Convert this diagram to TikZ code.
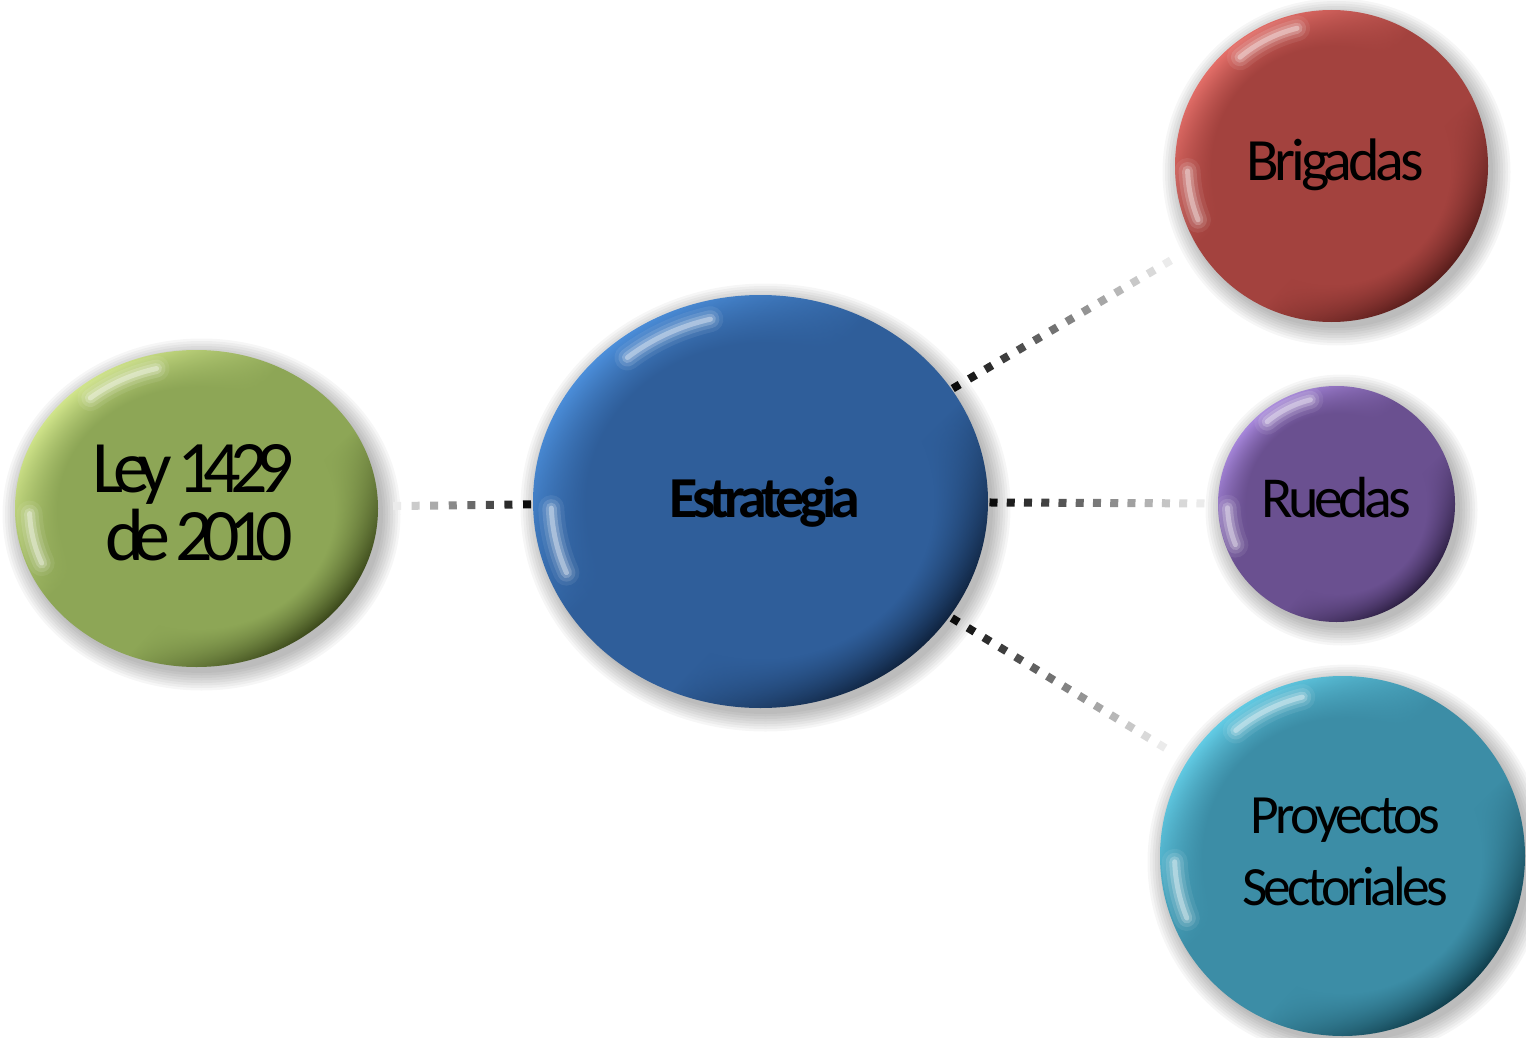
\documentclass[tikz,border=0pt]{standalone}
\usepackage{fontspec}
\usetikzlibrary{calc,fadings,shapes.geometric}
\newfontfamily\fBri[LetterSpace=-7]{Carlito}
\newfontfamily\fLey[LetterSpace=-15]{Carlito}
\newfontfamily\fEst[LetterSpace=-9]{Carlito}
\newfontfamily\fRue[LetterSpace=-7.5]{Carlito}
\newfontfamily\fPro[LetterSpace=-7]{Carlito}

\colorlet{orbL}{white}\colorlet{orbB}{gray}\colorlet{orbD}{black}
\pgfdeclarehorizontalshading[orbL,orbB,orbD]{orbaxis}{100bp}{%
  color(0bp)=(orbL); color(25bp)=(orbL); color(44bp)=(orbB); color(58bp)=(orbB);
  color(75bp)=(orbD); color(100bp)=(orbD)}
\pgfdeclareradialshading{orbfadeshade}{\pgfpoint{0bp}{0bp}}{%
  color(0bp)=(white); color(19bp)=(white); color(25bp)=(black); color(50bp)=(black)}
\pgfdeclarefading{orbfade}{\pgfuseshading{orbfadeshade}}

\tikzset{
  orbnode/.style={ellipse, inner sep=0pt, outer sep=0pt},
  orbtxt/.style={anchor=base, inner sep=0pt, text=black},
  dotsq/.style={rectangle, inner sep=0pt, minimum size=4pt, draw=none},
}

% #1 name, #2 cx, #3 cy, #4 rx, #5 ry (pixel units)
\newcommand\orbpaint[5]{%
  \foreach \k in {0,...,7}{
    \fill[black, opacity=0.035] (#2+5,#3+6) ellipse [x radius=#4+2.5*\k, y radius=#5+2.5*\k];
  }
  \shade[shading=orbaxis, shading angle=-45] (#2,#3) ellipse [x radius=#4, y radius=#5];
  \fill[orbB, path fading=orbfade] (#2,#3) ellipse [x radius=#4, y radius=#5];
  \begin{scope}
    \clip (#2,#3) ellipse [x radius=#4, y radius=#5];
    \begin{scope}[shift={(#2,#3)}]
      \foreach \w/\o in {26/0.07, 18/0.12, 11/0.2, 5/0.35}{
        \draw[white, line width=\w*0.5pt, opacity=\o, line cap=round]
          (230:{0.91*#4} and {0.91*#5}) arc[start angle=230, end angle=256, x radius={0.91*#4}, y radius={0.91*#5}];
        \draw[white, line width=\w*0.5pt, opacity=\o, line cap=round]
          (158:{0.92*#4} and {0.92*#5}) arc[start angle=158, end angle=178, x radius={0.92*#4}, y radius={0.92*#5}];
      }
    \end{scope}
  \end{scope}
  \node[orbnode, minimum width=#4pt, minimum height=#5pt] (#1) at (#2,#3) {};
}

% dotted fading connector: #1 from node, #2 to node, #3 start dist, #4 end dist, #5 last index
\newcommand\dotline[5]{%
  \coordinate (#1-#2-s) at ($(#1.center)!#3!(#2.center)$);
  \coordinate (#1-#2-e) at ($(#1.center)!#4!(#2.center)$);
  \foreach \i [evaluate=\i as \p using 96-88*\i/#5, evaluate=\i as \t using \i/#5] in {0,...,#5}{
    \path (#1-#2-s) -- (#1-#2-e) node[dotsq, pos=\t, sloped, fill=black!\p] {};
  }
}

\begin{document}
\begin{tikzpicture}[x=0.5pt, y=-0.5pt]
\useasboundingbox (0,0) rectangle (1526,1038);
\fill[white] (0,0) rectangle (1526,1038);

% Ley
\definecolor{orbL}{HTML}{D2E68C}\definecolor{orbB}{HTML}{8DA656}\definecolor{orbD}{HTML}{394619}
\orbpaint{ley}{196.5}{508.5}{181.5}{158.5}
% Estrategia
\definecolor{orbL}{HTML}{4C8FDB}\definecolor{orbB}{HTML}{2F5E9A}\definecolor{orbD}{HTML}{0F223D}
\orbpaint{est}{760.5}{501.5}{227.5}{206.5}
% Brigadas
\definecolor{orbL}{HTML}{E5706A}\definecolor{orbB}{HTML}{A3423E}\definecolor{orbD}{HTML}{561C1A}
\orbpaint{bri}{1331.5}{166}{156.5}{156}
% Ruedas
\definecolor{orbL}{HTML}{A888DD}\definecolor{orbB}{HTML}{6A5090}\definecolor{orbD}{HTML}{2A1D3F}
\orbpaint{rue}{1336.5}{504}{118.5}{118}
% Proyectos
\definecolor{orbL}{HTML}{63CDE6}\definecolor{orbB}{HTML}{3C8DA6}\definecolor{orbD}{HTML}{0F3C4A}
\orbpaint{pro}{1342.5}{856}{182.5}{180}

% connectors
\dotline{est}{ley}{116.75pt}{181.75pt}{7}
\dotline{est}{bri}{113.5pt}{236pt}{13}
\dotline{est}{rue}{116.5pt}{220pt}{12}
\dotline{est}{pro}{114pt}{235pt}{13}

% texts
\node[orbtxt, font=\fLey\fontsize{37}{34}\selectfont] (ley-t1) at (193.5,492) {Ley 1429};
\node[orbtxt, font=\fLey\fontsize{37}{34}\selectfont] (ley-t2) at (199,560) {de 2010};
\node[orbtxt, font=\fEst\bfseries\fontsize{29}{34}\selectfont] (est-t) at (764.5,517) {Estrategia};
\node[orbtxt, font=\fBri\fontsize{30}{34}\selectfont] (bri-t) at (1335,180) {Brigadas};
\node[orbtxt, font=\fRue\fontsize{29}{34}\selectfont] (rue-t) at (1336,517) {Ruedas};
\node[orbtxt, font=\fPro\fontsize{27.7}{34}\selectfont] (pro-t1) at (1345.5,833) {Proyectos};
\node[orbtxt, font=\fPro\fontsize{27.7}{34}\selectfont] (pro-t2) at (1345,905) {Sectoriales};
\end{tikzpicture}
\end{document}
